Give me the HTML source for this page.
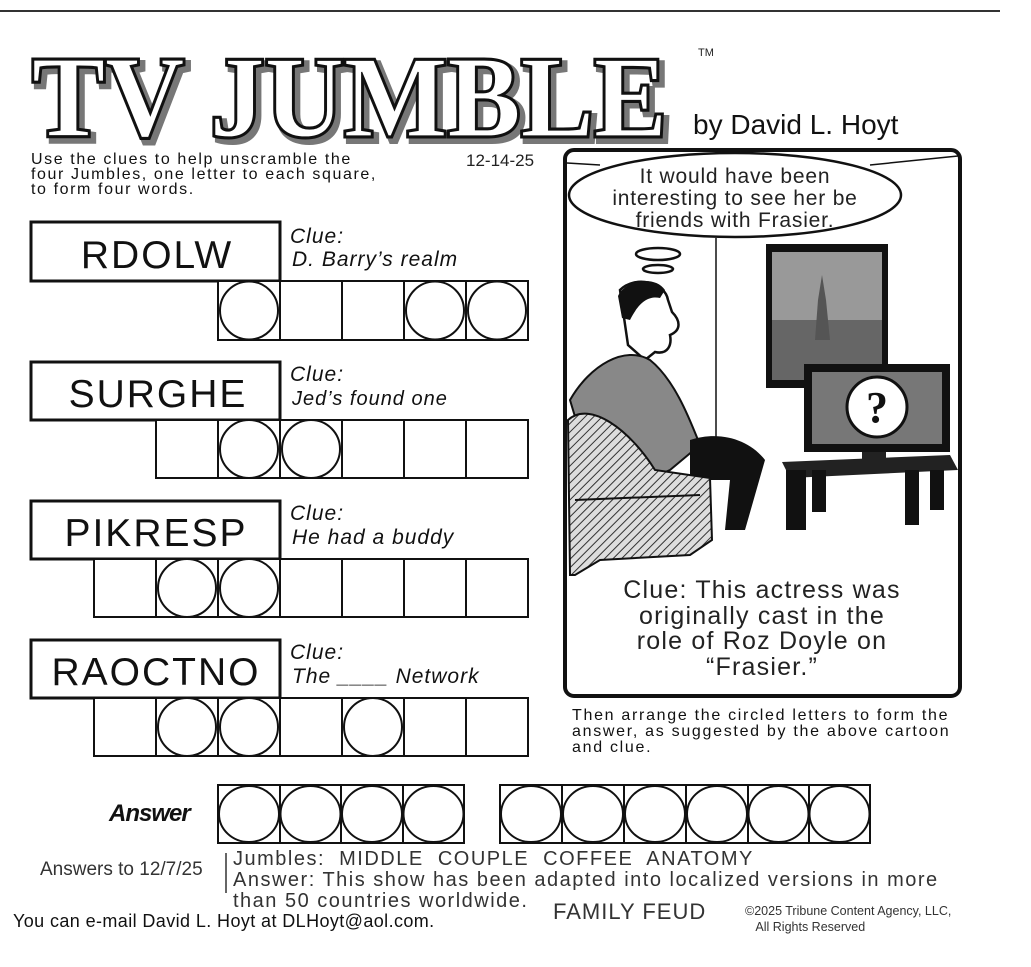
<!DOCTYPE html>
<html><head><meta charset="utf-8"><style>
body{margin:0;background:#fff;}
#p{position:relative;width:1031px;height:967px;overflow:hidden;background:#fff;font-family:"Liberation Sans",sans-serif;color:#222;}
.a{position:absolute;white-space:nowrap;}
</style></head><body><div id="p">
<svg class="a" style="left:0;top:0" width="1031" height="967" xmlns="http://www.w3.org/2000/svg">
<defs><pattern id="h" width="6" height="6" patternUnits="userSpaceOnUse" patternTransform="rotate(45)"><rect width="6" height="6" fill="#ddd"/><line x1="0" y1="0" x2="0" y2="6" stroke="#333" stroke-width="2"/></pattern></defs>
<line x1="0" y1="11" x2="1000" y2="11" stroke="#333" stroke-width="2"/>
<text x="36" y="140" font-family="Liberation Serif" font-weight="bold" font-size="115" textLength="635" lengthAdjust="spacingAndGlyphs" fill="#777" stroke="#777" stroke-width="8">TV JUMBLE</text>
<text x="32" y="136" font-family="Liberation Serif" font-weight="bold" font-size="115" textLength="635" lengthAdjust="spacingAndGlyphs" fill="#fff" stroke="#111" stroke-width="5" paint-order="stroke">TV JUMBLE</text>
<text x="32" y="136" font-family="Liberation Serif" font-weight="bold" font-size="115" textLength="635" lengthAdjust="spacingAndGlyphs" fill="#fff" stroke="#111" stroke-width="1.2">TV JUMBLE</text>
<text x="698" y="56" font-size="11" font-family="Liberation Sans" fill="#222">TM</text>
<text x="693" y="134" font-size="28" font-family="Liberation Sans" fill="#111">by David L. Hoyt</text>

<g fill="#fff" stroke="#111">
<rect x="31" y="222" width="249" height="59" stroke-width="3"/>
<rect x="31" y="362" width="249" height="58" stroke-width="3"/>
<rect x="31" y="501" width="249" height="58" stroke-width="3"/>
<rect x="31" y="640" width="249" height="58" stroke-width="3"/>
</g>
<g font-family="Liberation Sans" font-size="39" fill="#111" text-anchor="middle" letter-spacing="2">
<text x="157" y="268">RDOLW</text>
<text x="158" y="407">SURGHE</text>
<text x="156" y="546">PIKRESP</text>
<text x="156" y="685">RAOCTNO</text>
</g>
<g font-family="Liberation Sans" font-style="italic" fill="#111" font-size="21" letter-spacing="1">
<text x="290" y="243">Clue:</text><text x="292" y="266">D. Barry’s realm</text>
<text x="290" y="381">Clue:</text><text x="292" y="405" font-size="20">Jed’s found one</text>
<text x="290" y="520">Clue:</text><text x="292" y="544">He had a buddy</text>
<text x="290" y="659">Clue:</text><text x="292" y="683">The ____ Network</text>
</g>
<g fill="#fff" stroke="#111" stroke-width="2">
<rect x="218" y="281" width="310" height="59"/>
<line x1="280" y1="281" x2="280" y2="340"/><line x1="342" y1="281" x2="342" y2="340"/><line x1="404" y1="281" x2="404" y2="340"/><line x1="466" y1="281" x2="466" y2="340"/>
<circle cx="249" cy="310.5" r="29"/><circle cx="435" cy="310.5" r="29"/><circle cx="497" cy="310.5" r="29"/>
<rect x="156" y="420" width="372" height="58"/>
<line x1="218" y1="420" x2="218" y2="478"/><line x1="280" y1="420" x2="280" y2="478"/><line x1="342" y1="420" x2="342" y2="478"/><line x1="404" y1="420" x2="404" y2="478"/><line x1="466" y1="420" x2="466" y2="478"/>
<circle cx="249" cy="449" r="29"/><circle cx="311" cy="449" r="29"/>
<rect x="94" y="559" width="434" height="58"/>
<line x1="156" y1="559" x2="156" y2="617"/><line x1="218" y1="559" x2="218" y2="617"/><line x1="280" y1="559" x2="280" y2="617"/><line x1="342" y1="559" x2="342" y2="617"/><line x1="404" y1="559" x2="404" y2="617"/><line x1="466" y1="559" x2="466" y2="617"/>
<circle cx="187" cy="588" r="29"/><circle cx="249" cy="588" r="29"/>
<rect x="94" y="698" width="434" height="58"/>
<line x1="156" y1="698" x2="156" y2="756"/><line x1="218" y1="698" x2="218" y2="756"/><line x1="280" y1="698" x2="280" y2="756"/><line x1="342" y1="698" x2="342" y2="756"/><line x1="404" y1="698" x2="404" y2="756"/><line x1="466" y1="698" x2="466" y2="756"/>
<circle cx="187" cy="727" r="29"/><circle cx="249" cy="727" r="29"/><circle cx="373" cy="727" r="29"/>
<rect x="218" y="785" width="246" height="58"/>
<line x1="280" y1="785" x2="280" y2="843"/><line x1="341" y1="785" x2="341" y2="843"/><line x1="403" y1="785" x2="403" y2="843"/>
<ellipse cx="249" cy="814" rx="30" ry="28"/><ellipse cx="310.5" cy="814" rx="30" ry="28"/><ellipse cx="372" cy="814" rx="30" ry="28"/><ellipse cx="433.5" cy="814" rx="30" ry="28"/>
<rect x="500" y="785" width="370" height="58"/>
<line x1="562" y1="785" x2="562" y2="843"/><line x1="624" y1="785" x2="624" y2="843"/><line x1="686" y1="785" x2="686" y2="843"/><line x1="748" y1="785" x2="748" y2="843"/><line x1="809" y1="785" x2="809" y2="843"/>
<ellipse cx="531" cy="814" rx="30" ry="28"/><ellipse cx="593" cy="814" rx="30" ry="28"/><ellipse cx="655" cy="814" rx="30" ry="28"/><ellipse cx="717" cy="814" rx="30" ry="28"/><ellipse cx="778.5" cy="814" rx="30" ry="28"/><ellipse cx="839.5" cy="814" rx="30" ry="28"/>
</g>
<line x1="226" y1="853" x2="226" y2="893" stroke="#333" stroke-width="1.5"/>

<rect x="565" y="150" width="395" height="546" rx="9" fill="#fff" stroke="#111" stroke-width="4"/>
<line x1="567" y1="163" x2="600" y2="165" stroke="#111" stroke-width="1.5"/>
<line x1="870" y1="165" x2="958" y2="156" stroke="#111" stroke-width="1.5"/>
<line x1="716" y1="238" x2="716" y2="470" stroke="#111" stroke-width="1.5"/>
<ellipse cx="735" cy="195" rx="166" ry="42" fill="#fff" stroke="#111" stroke-width="2.5"/>
<ellipse cx="658" cy="254" rx="22" ry="6" fill="#fff" stroke="#111" stroke-width="2.5"/>
<ellipse cx="658" cy="269" rx="15" ry="4" fill="#fff" stroke="#111" stroke-width="2.5"/>
<rect x="766" y="244" width="122" height="144" fill="#111"/>
<rect x="772" y="252" width="110" height="128" fill="#999"/>
<rect x="772" y="320" width="110" height="60" fill="#666"/>
<polygon points="822,275 826,300 830,340 815,340 818,300" fill="#555"/>
<rect x="804" y="364" width="146" height="88" fill="#111"/>
<rect x="812" y="372" width="130" height="72" fill="#777"/>
<circle cx="877" cy="407" r="30" fill="#fff" stroke="#111" stroke-width="3"/>
<text x="877" y="422" text-anchor="middle" font-family="Liberation Serif" font-weight="bold" font-size="44" fill="#111">?</text>
<rect x="862" y="452" width="24" height="12" fill="#222"/>
<polygon points="782,462 950,455 958,470 790,478" fill="#222"/>
<rect x="786" y="470" width="20" height="60" fill="#111"/>
<rect x="812" y="470" width="14" height="42" fill="#111"/>
<rect x="905" y="470" width="14" height="55" fill="#111"/>
<rect x="930" y="470" width="14" height="40" fill="#111"/>
<path d="M620 290 C635 275 665 282 668 300 L672 312 C680 320 682 330 670 335 C672 345 668 355 655 352 L645 360 L628 345 Z" fill="#fff" stroke="#111" stroke-width="2.5"/>
<path d="M618 296 C625 280 655 275 665 290 L660 298 C650 296 640 300 630 320 L622 318 Z" fill="#111"/>
<path d="M570 400 C590 365 625 345 650 360 C675 380 690 420 700 445 L670 470 L600 500 Z" fill="#888" stroke="#111" stroke-width="2"/>
<path d="M690 440 C720 430 750 440 765 460 L745 530 L725 530 L730 480 L690 480 Z" fill="#111"/>
<path d="M568 420 C590 400 630 430 655 470 L710 478 L712 540 L690 555 L600 560 L575 575 L570 575 Z" fill="url(#h)" stroke="#111" stroke-width="2"/>
<path d="M575 500 L700 495" stroke="#111" stroke-width="2"/>
<g font-family="Liberation Sans" fill="#222" text-anchor="middle">
<text x="735" y="183" font-size="21" letter-spacing="0.8">It would have been</text>
<text x="735" y="205" font-size="21" letter-spacing="0.8">interesting to see her be</text>
<text x="735" y="227" font-size="21" letter-spacing="0.8">friends with Frasier.</text>
<text x="762" y="598" font-size="25" letter-spacing="1.2">Clue: This actress was</text>
<text x="762" y="624" font-size="25" letter-spacing="1.2">originally cast in the</text>
<text x="762" y="649" font-size="25" letter-spacing="1.2">role of Roz Doyle on</text>
<text x="762" y="675" font-size="25" letter-spacing="1.2">“Frasier.”</text>
</g>
</svg>
<div class="a" style="left:31px;top:152px;font-size:16px;line-height:15px;color:#111;letter-spacing:1.6px">Use the clues to help unscramble the<br>four Jumbles, one letter to each square,<br>to form four words.</div>
<div class="a" style="left:466px;top:151px;font-size:17px;color:#222">12-14-25</div>
<div class="a" style="left:572px;top:708px;font-size:16px;line-height:16px;color:#111;letter-spacing:1.7px">Then arrange the circled letters to form the<br>answer, as suggested by the above cartoon<br>and clue.</div>
<div class="a" style="left:109px;top:800px;font-size:24px;font-weight:bold;font-style:italic;color:#111;letter-spacing:-1px">Answer</div>
<div class="a" style="left:40px;top:859px;font-size:19px;color:#333">Answers to 12/7/25</div>
<div class="a" style="left:233px;top:849px;font-size:20px;line-height:21px;color:#333;letter-spacing:1.5px">Jumbles:&nbsp; MIDDLE&nbsp; COUPLE&nbsp; COFFEE&nbsp; ANATOMY<br>Answer: This show has been adapted into localized versions in more<br>than 50 countries worldwide.</div>
<div class="a" style="left:553px;top:899px;font-size:22px;color:#333;letter-spacing:1px">FAMILY FEUD</div>
<div class="a" style="left:745px;top:903px;font-size:12.5px;line-height:16px;color:#333">©2025 Tribune Content Agency, LLC,<br>&nbsp;&nbsp;&nbsp;All Rights Reserved</div>
<div class="a" style="left:13px;top:911px;font-size:18px;color:#111;letter-spacing:0.4px">You can e-mail David L. Hoyt at DLHoyt@aol.com.</div>
</div></body></html>
